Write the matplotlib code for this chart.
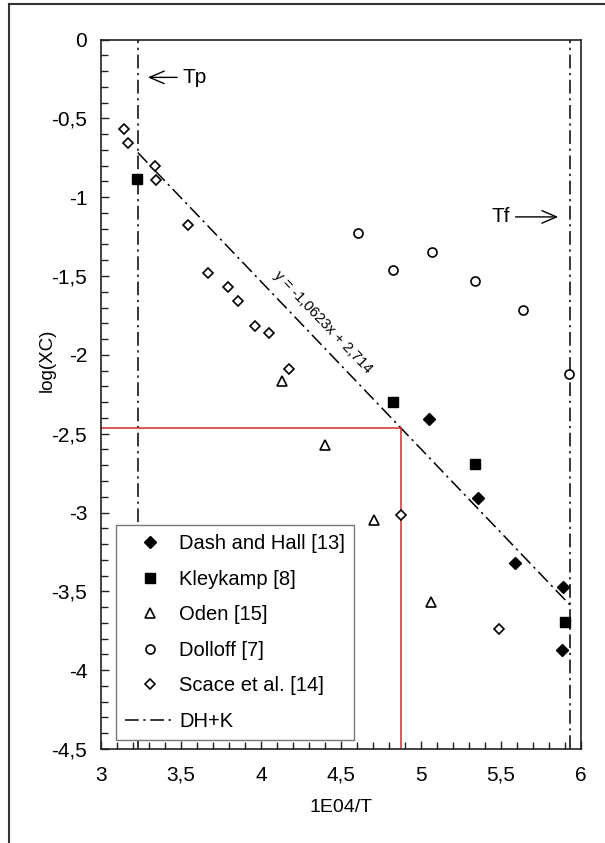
import numpy as np
import matplotlib
matplotlib.use('Agg')
import matplotlib.pyplot as plt
from matplotlib.ticker import MultipleLocator, FuncFormatter
from matplotlib.lines import Line2D

plt.rcParams['font.family'] = ['Liberation Sans', 'DejaVu Sans']

# 1E04/T and log(XC) per data source
dash_x = [5.052, 5.359, 5.588, 5.889, 5.884]
dash_y = [-2.404, -2.905, -3.322, -3.474, -3.873]

kley_x = [3.227, 4.823, 5.339, 5.901]
kley_y = [-0.883, -2.297, -2.694, -3.696]

oden_x = [4.131, 4.401, 4.705, 5.064]
oden_y = [-2.165, -2.571, -3.047, -3.565]

doll_x = [4.606, 4.823, 5.069, 5.339, 5.638, 5.925]
doll_y = [-1.229, -1.462, -1.350, -1.531, -1.715, -2.121]

scace_x = [3.145, 3.169, 3.338, 3.345, 3.546, 3.671, 3.796, 3.859, 3.963, 4.052, 4.173, 4.876, 5.486]
scace_y = [-0.568, -0.658, -0.802, -0.891, -1.178, -1.478, -1.567, -1.658, -1.815, -1.863, -2.092, -3.017, -3.740]

# DH+K fit and the two temperature limits
fit_slope = -1.0623
fit_icpt = 2.714
tp = 3.23
tf = 5.93
read_x = 4.872

labels = ['Dash and Hall [13]', 'Kleykamp [8]', 'Oden [15]', 'Dolloff [7]',
          'Scace et al. [14]', 'DH+K']

fs = 15
dashdot = (0, (9, 3, 1.5, 3))

fig = plt.figure(figsize=(6.05, 8.43), dpi=100)
ax = fig.add_axes([0.167, 0.1115, 0.7934, 0.8416])

ax.axvline(tp, color='black', lw=1.1, ls=dashdot, zorder=1)
ax.axvline(tf, color='black', lw=1.1, ls=dashdot, zorder=1)

fx = np.array([tp, tf])
ax.plot(fx, fit_slope * fx + fit_icpt, color='black', lw=1.1, ls=dashdot, zorder=2)

read_y = fit_slope * read_x + fit_icpt
ax.plot([3, read_x], [read_y, read_y], color='#d42a2a', lw=1.1, zorder=2)
ax.plot([read_x, read_x], [read_y, -4.5], color='#d42a2a', lw=1.1, zorder=2)

ax.plot(dash_x, dash_y, ls='none', marker='D', ms=6, color='black', zorder=3)
ax.plot(kley_x, kley_y, ls='none', marker='s', ms=7, color='black', zorder=3)
ax.plot(oden_x, oden_y, ls='none', marker='^', ms=6.5, mfc='white', mec='black', mew=1.2, zorder=3)
ax.plot(doll_x, doll_y, ls='none', marker='o', ms=6.5, mfc='white', mec='black', mew=1.2, zorder=3)
ax.plot(scace_x, scace_y, ls='none', marker='D', ms=5.5, mfc='white', mec='black', mew=1.2, zorder=3)

ax.text(4.385, -1.79, 'y = -1,0623x + 2,714', fontsize=10.6, ha='center', va='center',
        rotation=np.degrees(np.arctan(fit_slope)), rotation_mode='anchor',
        transform_rotates_text=True)

arrow = dict(arrowstyle='->,head_length=0.7,head_width=0.3', lw=1, color='black')
ax.annotate('Tp', xy=(3.275, -0.24), xytext=(3.51, -0.24), fontsize=fs,
            ha='left', va='center', arrowprops=arrow)
ax.annotate('Tf', xy=(5.875, -1.125), xytext=(5.556, -1.125), fontsize=fs,
            ha='right', va='center', arrowprops=arrow)

ax.set_xlim(3, 6)
ax.set_ylim(-4.5, 0)
ax.xaxis.set_major_locator(MultipleLocator(0.5))
ax.yaxis.set_major_locator(MultipleLocator(0.5))
ax.xaxis.set_minor_locator(MultipleLocator(0.1))
ax.yaxis.set_minor_locator(MultipleLocator(0.1))
comma = FuncFormatter(lambda v, p: ('%g' % v).replace('.', ','))
ax.xaxis.set_major_formatter(comma)
ax.yaxis.set_major_formatter(comma)
ax.tick_params(which='both', direction='in', top=False, right=False, width=1, color='#222222')
ax.tick_params(which='major', length=5.5)
ax.tick_params(which='minor', length=5)
ax.tick_params(axis='x', which='major', pad=12, labelsize=fs)
ax.tick_params(axis='y', which='major', pad=10, labelsize=fs)
for s in ax.spines.values():
    s.set_linewidth(1.2)
    s.set_color('#222222')

ax.set_xlabel('1E04/T', fontsize=14, va='top')
ax.xaxis.set_label_coords(0.5, -0.07)
ax.set_ylabel('log(XC)', fontsize=13.5)
ax.yaxis.set_label_coords(-0.094, 0.548)

handles = [
    Line2D([], [], ls='none', marker='D', ms=6, color='black'),
    Line2D([], [], ls='none', marker='s', ms=7, color='black'),
    Line2D([], [], ls='none', marker='^', ms=6.5, mfc='white', mec='black', mew=1.2),
    Line2D([], [], ls='none', marker='o', ms=6.5, mfc='white', mec='black', mew=1.2),
    Line2D([], [], ls='none', marker='D', ms=5.5, mfc='white', mec='black', mew=1.2),
    Line2D([], [], color='black', lw=1.1, ls=dashdot),
]
leg = ax.legend(handles, labels, loc='lower left', bbox_to_anchor=(0.031, 0.0127),
                borderaxespad=0, fontsize=14.5, frameon=True, fancybox=False,
                edgecolor='#777777', framealpha=1, borderpad=0.45, labelspacing=0.82,
                handlelength=2.5, handletextpad=0.2)
leg.get_frame().set_linewidth(1.0)
leg.set_zorder(5)

# outer frame of the figure
fig.add_artist(Line2D([9.3 / 605, 9.3 / 605], [1 - 4 / 843, 0], color='#333333', lw=1.5,
                      transform=fig.transFigure))
fig.add_artist(Line2D([9.3 / 605, 1], [1 - 4 / 843, 1 - 4 / 843], color='#333333', lw=1.5,
                      transform=fig.transFigure))

fig.savefig('out.png', dpi=100)
